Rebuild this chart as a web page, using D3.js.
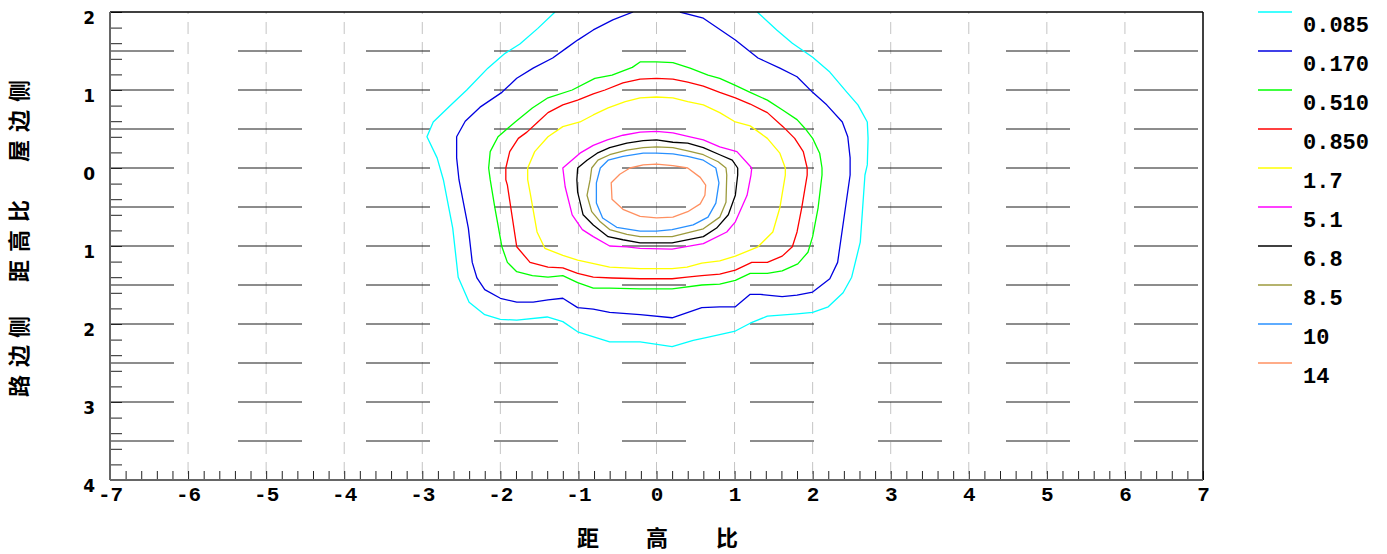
<!DOCTYPE html>
<html>
<head>
<meta charset="utf-8">
<script src="https://cdn.jsdelivr.net/npm/d3@7"></script>
<style>
  body { margin: 0; background: #fff; }
  svg { display: block; }
</style>
</head>
<body>
<svg id="chart"></svg>
<script>
// contour levels and colours (legend order)
const levels = ["0.085", "0.170", "0.510", "0.850", "1.7", "5.1", "6.8", "8.5", "10", "14"];
const levelColors = ["#00ffff", "#0000e0", "#00ff00", "#ff0000", "#ffff00", "#ff00ff", "#000000", "#9c9a3c", "#2890ff", "#ff9060"];

const xTickValues = [-7, -6, -5, -4, -3, -2, -1, 0, 1, 2, 3, 4, 5, 6, 7];
const yTickValues = [2, 1, 0, -1, -2, -3, -4];
const hGridValues = [1.5, 1, 0.5, 0, -0.5, -1, -1.5, -2, -2.5, -3, -3.5];
const vGridValues = [-6, -5, -4, -3, -2, -1, 0, 1, 2, 3, 4, 5, 6];

// contour lines, [x, y] in 距高比 units (y > 0 屋边侧, y < 0 路边侧)
const contour0085 = [[-1.30, 2.00], [-1.52, 1.79], [-1.75, 1.59], [-1.94, 1.47], [-2.16, 1.28], [-2.43, 1.00], [-2.62, 0.82], [-2.86, 0.59], [-2.94, 0.40], [-2.81, 0.13], [-2.73, -0.15], [-2.61, -0.77], [-2.54, -1.40], [-2.40, -1.72], [-2.20, -1.88], [-2.00, -1.94], [-1.79, -1.95], [-1.40, -1.91], [-1.20, -1.97], [-1.01, -2.10], [-0.60, -2.23], [-0.21, -2.23], [0.20, -2.29], [0.47, -2.21], [0.65, -2.17], [1.01, -2.09], [1.20, -1.99], [1.42, -1.90], [1.80, -1.87], [2.00, -1.85], [2.20, -1.78], [2.39, -1.60], [2.50, -1.40], [2.61, -0.95], [2.67, -0.09], [2.70, 0.04], [2.71, 0.38], [2.70, 0.59], [2.58, 0.81], [2.44, 0.97], [2.22, 1.23], [2.00, 1.42], [1.74, 1.60], [1.54, 1.77], [1.29, 2.00]];
const contour0170 = [[-0.30, 2.00], [-0.56, 1.90], [-0.81, 1.77], [-1.01, 1.64], [-1.15, 1.54], [-1.33, 1.41], [-1.58, 1.28], [-1.79, 1.15], [-1.98, 0.97], [-2.26, 0.78], [-2.45, 0.60], [-2.56, 0.40], [-2.56, 0.13], [-2.53, -0.15], [-2.41, -0.77], [-2.36, -1.21], [-2.30, -1.41], [-2.20, -1.56], [-2.00, -1.67], [-1.79, -1.72], [-1.58, -1.72], [-1.39, -1.69], [-1.20, -1.67], [-1.01, -1.79], [-0.81, -1.81], [-0.60, -1.85], [-0.21, -1.88], [0.20, -1.92], [0.58, -1.79], [0.81, -1.78], [1.01, -1.78], [1.20, -1.62], [1.33, -1.62], [1.61, -1.65], [1.80, -1.63], [2.00, -1.59], [2.22, -1.42], [2.32, -1.21], [2.48, -0.09], [2.48, 0.13], [2.45, 0.40], [2.38, 0.59], [2.18, 0.81], [2.00, 0.97], [1.80, 1.17], [1.58, 1.28], [1.30, 1.41], [1.01, 1.64], [0.60, 1.92], [0.30, 2.00]];
const contour0510 = [[0.00, 1.36], [-0.21, 1.36], [-0.31, 1.29], [-0.57, 1.19], [-0.79, 1.15], [-1.08, 1.00], [-1.39, 0.90], [-1.59, 0.77], [-1.81, 0.59], [-2.03, 0.40], [-2.13, 0.21], [-2.15, 0.00], [-2.13, -0.15], [-2.07, -0.51], [-1.98, -1.01], [-1.91, -1.21], [-1.79, -1.33], [-1.59, -1.38], [-1.39, -1.40], [-1.20, -1.38], [-1.01, -1.47], [-0.81, -1.54], [-0.60, -1.54], [-0.21, -1.55], [0.20, -1.55], [0.58, -1.50], [0.81, -1.49], [1.01, -1.44], [1.20, -1.35], [1.42, -1.35], [1.61, -1.32], [1.81, -1.23], [1.94, -1.08], [2.00, -0.88], [2.07, -0.51], [2.12, -0.09], [2.12, 0.00], [2.09, 0.19], [2.00, 0.38], [1.90, 0.51], [1.80, 0.62], [1.62, 0.74], [1.42, 0.87], [1.20, 0.97], [1.01, 1.06], [0.81, 1.15], [0.66, 1.19], [0.43, 1.28], [0.21, 1.35]];
const contour0850 = [[0.00, 1.15], [-0.21, 1.14], [-0.43, 1.09], [-0.66, 1.00], [-0.81, 0.95], [-1.01, 0.87], [-1.20, 0.81], [-1.39, 0.71], [-1.53, 0.58], [-1.66, 0.46], [-1.77, 0.38], [-1.88, 0.21], [-1.93, 0.00], [-1.93, -0.15], [-1.91, -0.22], [-1.79, -1.01], [-1.62, -1.21], [-1.39, -1.27], [-1.20, -1.28], [-1.01, -1.35], [-0.81, -1.40], [-0.57, -1.41], [-0.21, -1.42], [0.20, -1.42], [0.39, -1.40], [0.58, -1.38], [0.81, -1.36], [1.01, -1.31], [1.22, -1.21], [1.42, -1.21], [1.61, -1.13], [1.74, -1.01], [1.80, -0.82], [1.86, -0.51], [1.93, -0.09], [1.93, 0.00], [1.88, 0.21], [1.77, 0.38], [1.62, 0.53], [1.42, 0.71], [1.20, 0.82], [1.01, 0.90], [0.81, 0.97], [0.60, 1.05], [0.40, 1.10], [0.21, 1.14]];
const contour17 = [[0.00, 0.91], [-0.21, 0.90], [-0.40, 0.85], [-0.62, 0.77], [-0.81, 0.68], [-0.98, 0.59], [-1.20, 0.53], [-1.39, 0.40], [-1.56, 0.21], [-1.65, 0.00], [-1.65, -0.15], [-1.62, -0.31], [-1.53, -0.82], [-1.43, -1.03], [-1.20, -1.12], [-1.01, -1.18], [-0.79, -1.23], [-0.60, -1.27], [-0.21, -1.29], [0.20, -1.29], [0.39, -1.27], [0.58, -1.22], [0.81, -1.19], [1.01, -1.13], [1.30, -1.01], [1.49, -0.82], [1.58, -0.51], [1.65, -0.09], [1.65, 0.00], [1.58, 0.19], [1.42, 0.38], [1.20, 0.54], [1.01, 0.59], [0.81, 0.71], [0.60, 0.81], [0.40, 0.85], [0.21, 0.90]];
const contour51 = [[-1.20, 0.00], [-0.98, 0.19], [-0.81, 0.29], [-0.63, 0.36], [-0.43, 0.42], [-0.21, 0.46], [0.00, 0.47], [0.21, 0.45], [0.43, 0.40], [0.60, 0.36], [0.81, 0.27], [1.03, 0.21], [1.22, 0.00], [1.21, -0.09], [1.16, -0.35], [1.01, -0.69], [0.90, -0.82], [0.60, -0.97], [0.20, -1.04], [-0.21, -1.03], [-0.38, -1.01], [-0.60, -1.00], [-0.81, -0.88], [-0.95, -0.79], [-1.08, -0.60], [-1.17, -0.24]];
const contour68 = [[-1.01, 0.00], [-0.89, 0.10], [-0.76, 0.19], [-0.60, 0.26], [-0.38, 0.32], [-0.17, 0.35], [0.00, 0.36], [0.21, 0.33], [0.40, 0.32], [0.60, 0.26], [0.81, 0.17], [0.97, 0.10], [1.04, 0.00], [1.04, -0.09], [1.01, -0.35], [0.92, -0.60], [0.77, -0.77], [0.60, -0.88], [0.20, -0.96], [-0.21, -0.96], [-0.43, -0.92], [-0.62, -0.88], [-0.81, -0.73], [-0.94, -0.60], [-1.01, -0.31], [-1.02, -0.15]];
const contour85 = [[-0.83, 0.00], [-0.75, 0.10], [-0.60, 0.17], [-0.38, 0.23], [-0.17, 0.26], [0.00, 0.27], [0.21, 0.26], [0.40, 0.22], [0.60, 0.17], [0.79, 0.08], [0.89, 0.00], [0.90, -0.09], [0.89, -0.44], [0.81, -0.63], [0.60, -0.78], [0.20, -0.88], [-0.21, -0.88], [-0.38, -0.85], [-0.60, -0.79], [-0.72, -0.69], [-0.83, -0.56], [-0.89, -0.35], [-0.85, -0.15]];
const contour10 = [[-0.72, 0.00], [-0.62, 0.10], [-0.43, 0.15], [-0.17, 0.19], [0.00, 0.19], [0.21, 0.18], [0.40, 0.15], [0.60, 0.10], [0.76, 0.00], [0.80, -0.19], [0.76, -0.45], [0.66, -0.63], [0.47, -0.73], [0.20, -0.79], [0.00, -0.81], [-0.21, -0.81], [-0.51, -0.76], [-0.69, -0.64], [-0.77, -0.45], [-0.77, -0.19]];
const contour14 = [[-0.58, -0.19], [-0.47, -0.08], [-0.34, 0.00], [-0.17, 0.04], [0.00, 0.05], [0.21, 0.03], [0.40, 0.00], [0.56, -0.12], [0.63, -0.22], [0.62, -0.35], [0.56, -0.46], [0.40, -0.56], [0.21, -0.63], [0.00, -0.64], [-0.21, -0.62], [-0.43, -0.53], [-0.57, -0.40]];

const contourLines = [contour0085, contour0170, contour0510, contour0850, contour17, contour51, contour68, contour85, contour10, contour14];
const openLines = [true, true, false, false, false, false, false, false, false, false];

const svgWidth = 1387, svgHeight = 554;
const margin = { top: 12, right: 184, bottom: 74, left: 110 };
const chartWidth = svgWidth - margin.left - margin.right;
const chartHeight = svgHeight - margin.top - margin.bottom;

const xScale = d3.scaleLinear().domain([-7, 7]).range([0, chartWidth]);
const yScale = d3.scaleLinear().domain([-4, 2]).range([chartHeight, 0]);

const svg = d3.select('#chart')
              .attr('width', svgWidth)
              .attr('height', svgHeight);

svg.append('defs').append('clipPath').attr('id', 'plot-clip')
   .append('rect').attr('width', chartWidth).attr('height', chartHeight);

const chartGroup = svg.append('g')
                      .attr('transform', `translate(${margin.left}, ${margin.top})`);

// vertical dashed grid
chartGroup.selectAll('.vgrid')
          .data(vGridValues)
          .enter()
          .append('line')
          .attr('x1', d => xScale(d)).attr('x2', d => xScale(d))
          .attr('y1', 0).attr('y2', chartHeight)
          .attr('stroke', '#c4c4c4')
          .attr('stroke-width', 1)
          .attr('stroke-dasharray', '12,8')
          .attr('stroke-dashoffset', -10);

// horizontal long-dash grid
chartGroup.selectAll('.hgrid')
          .data(hGridValues)
          .enter()
          .append('line')
          .attr('x1', 0).attr('x2', chartWidth)
          .attr('y1', d => yScale(d)).attr('y2', d => yScale(d))
          .attr('stroke', '#1a1a1a')
          .attr('stroke-width', 1)
          .attr('stroke-dasharray', '64,64');

// contours
const line = d3.line().x(d => xScale(d[0])).y(d => yScale(d[1]));
chartGroup.append('g').attr('clip-path', 'url(#plot-clip)')
          .selectAll('path')
          .data(contourLines)
          .enter()
          .append('path')
          .attr('d', (d, i) => line(d) + (openLines[i] ? '' : 'Z'))
          .attr('fill', 'none')
          .attr('stroke', (d, i) => levelColors[i])
          .attr('stroke-width', 1.3)
          .attr('stroke-linejoin', 'round');

// minor ticks (every 0.2)
const leftMinor = chartGroup.append('g')
    .call(d3.axisLeft(yScale).tickValues(d3.range(-4, 2.0001, 0.2)).tickSize(-12).tickFormat(''));
const bottomMinor = chartGroup.append('g')
    .attr('transform', `translate(0, ${chartHeight})`)
    .call(d3.axisBottom(xScale).tickValues(d3.range(-7, 7.0001, 0.2)).tickSize(-9).tickFormat(''));
[leftMinor, bottomMinor].forEach(g => {
    g.select('.domain').remove();
    g.selectAll('line').attr('stroke', '#222').attr('stroke-width', 1);
});

// frame
chartGroup.append('line').attr('x1', 0).attr('x2', chartWidth).attr('y1', 0).attr('y2', 0)
          .attr('stroke', '#000').attr('stroke-width', 1.5);
chartGroup.append('line').attr('x1', chartWidth).attr('x2', chartWidth).attr('y1', 0).attr('y2', chartHeight)
          .attr('stroke', '#000').attr('stroke-width', 1.5);
chartGroup.append('line').attr('x1', 0).attr('x2', 0).attr('y1', 0).attr('y2', chartHeight)
          .attr('stroke', '#666').attr('stroke-width', 2);
chartGroup.append('line').attr('x1', 0).attr('x2', chartWidth).attr('y1', chartHeight).attr('y2', chartHeight)
          .attr('stroke', '#666').attr('stroke-width', 2);

// tick labels
const yAxisGroup = chartGroup.append('g')
    .call(d3.axisLeft(yScale).tickValues(yTickValues).tickSize(0).tickPadding(15).tickFormat(d => Math.abs(d)));
yAxisGroup.select('.domain').remove();
yAxisGroup.selectAll('text')
          .attr('dy', '0.68em')
          .style('font-family', '"DejaVu Sans", sans-serif')
          .style('font-weight', 'bold')
          .style('font-size', '17px')
          .style('fill', '#000');

const xAxisGroup = chartGroup.append('g')
    .attr('transform', `translate(0, ${chartHeight})`)
    .call(d3.axisBottom(xScale).tickValues(xTickValues).tickSize(0).tickPadding(6).tickFormat(d => String(d)));
xAxisGroup.select('.domain').remove();
xAxisGroup.selectAll('text')
          .style('font-family', '"Liberation Mono", monospace')
          .style('font-weight', 'bold')
          .style('font-size', '21px')
          .style('fill', '#000');

// axis titles
const cjkFont = '"Noto Sans CJK SC", sans-serif';
const xTitle = ['距', '高', '比'];
const xTitlePos = [588, 657, 727];
svg.selectAll('.xtitle')
   .data(xTitle)
   .enter()
   .append('text')
   .attr('x', (d, i) => xTitlePos[i])
   .attr('y', 546)
   .attr('text-anchor', 'middle')
   .style('font-family', cjkFont)
   .style('font-size', '22px')
   .style('font-weight', 'bold')
   .text(d => d);

const yTitle = ['路', '边', '侧', '距', '高', '比', '屋', '边', '侧'];
const yTitlePos = [386, 356, 327, 271, 241, 211, 151, 121, 91];
svg.selectAll('.ytitle')
   .data(yTitle)
   .enter()
   .append('text')
   .attr('transform', (d, i) => `translate(19, ${yTitlePos[i]}) rotate(-90)`)
   .attr('text-anchor', 'middle')
   .attr('dy', '0.36em')
   .style('font-family', cjkFont)
   .style('font-size', '22px')
   .style('font-weight', 'bold')
   .text(d => d);

// legend
const legend = svg.append('g').attr('transform', 'translate(1258, 12)');
const legendItems = legend.selectAll('g')
    .data(levels)
    .enter()
    .append('g')
    .attr('transform', (d, i) => `translate(0, ${i * 39})`);
legendItems.append('line')
    .attr('x1', 0).attr('x2', 34)
    .attr('stroke', (d, i) => levelColors[i])
    .attr('stroke-width', 1.5);
legendItems.append('text')
    .attr('x', 45).attr('y', 20)
    .style('font-family', '"Liberation Mono", monospace')
    .style('font-weight', 'bold')
    .style('font-size', '22px')
    .text(d => d);
</script>
</body>
</html>
